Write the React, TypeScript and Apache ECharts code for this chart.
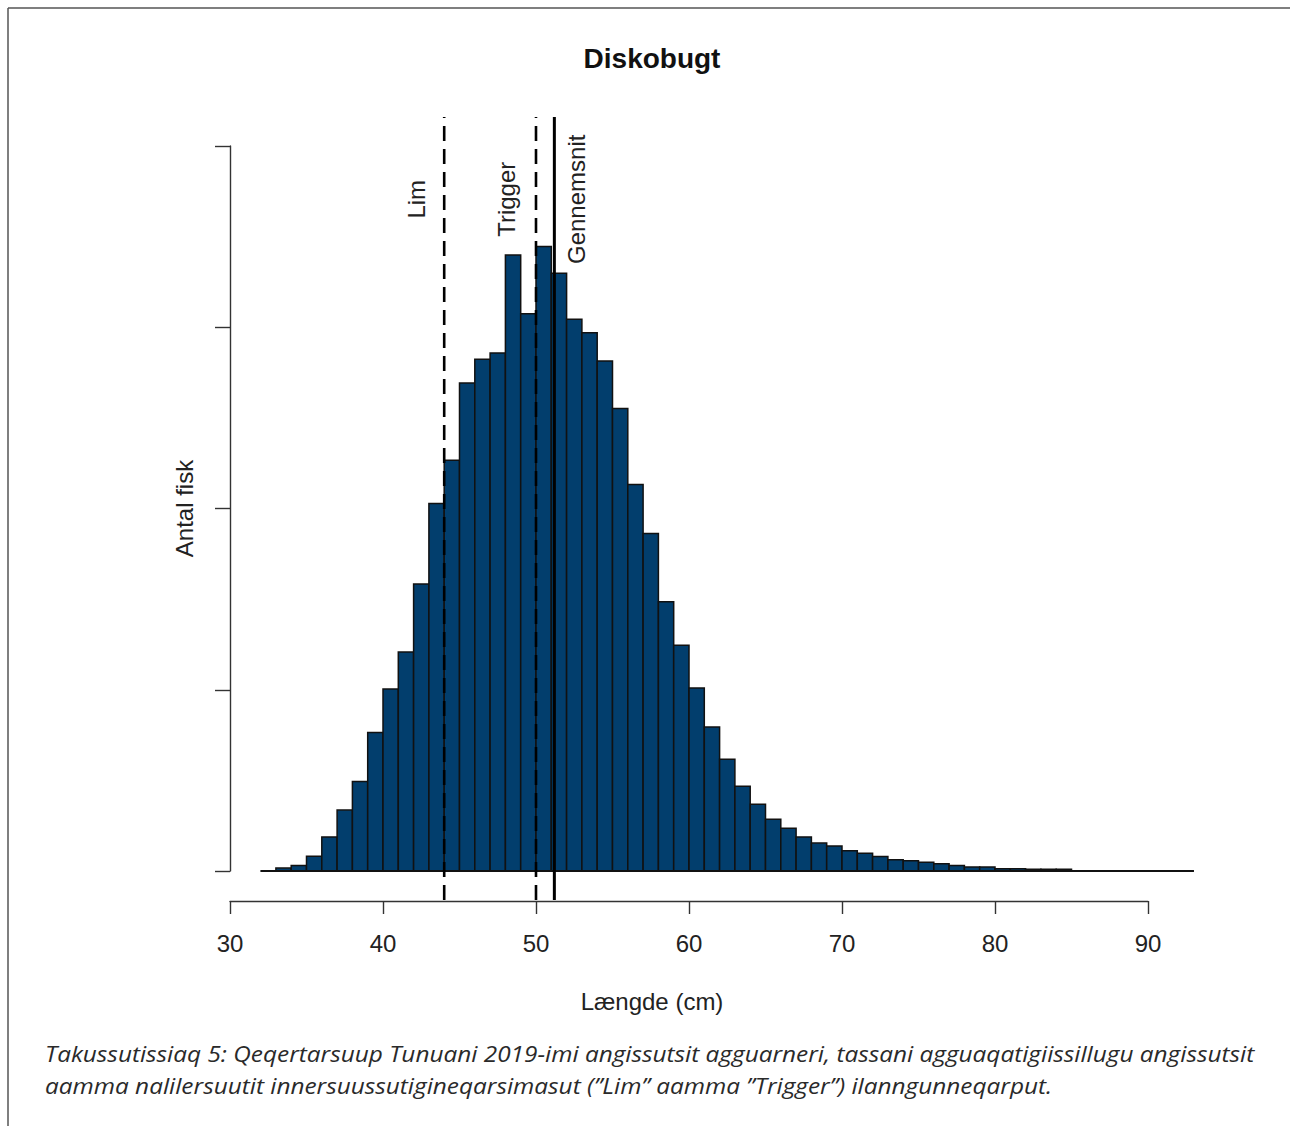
import React, { useEffect, useRef } from "react";
import * as echarts from "echarts";

// Histogram of fish lengths (cm), 1 cm bins starting at binStart
const binStart = 32;
const binWidth = 1;
const counts = [
  0, 8, 15, 41, 94, 168, 247, 382, 502, 604, 792, 1014, 1133, 1346, 1412, 1429,
  1699, 1537, 1723, 1649, 1522, 1485, 1407, 1276, 1066, 931, 743, 623, 505, 397,
  308, 234, 184, 143, 118, 94, 77, 69, 56, 49, 40, 31, 28, 24, 20, 15, 11, 11, 6,
  6, 5, 5, 5, 0, 0, 0, 0, 0, 0, 0, 0,
];

// Reference lines
const refNames = ["Lim", "Trigger", "Gennemsnit"];
const refValues = [44, 50, 51.2];

// Axis ticks
const xTicks = [30, 40, 50, 60, 70, 80, 90];
const yTicks = [0, 500, 1000, 1500, 2000];

const titleText = "Diskobugt";
const xAxisName = "Længde (cm)";
const yAxisName = "Antal fisk";
const captionLines = [
  "Takussutissiaq 5: Qeqertarsuup Tunuani 2019-imi angissutsit agguarneri, tassani agguaqatigiissillugu angissutsit",
  "aamma nalilersuutit innersuussutigineqarsimasut (\u201dLim\u201d aamma \u201dTrigger\u201d) ilanngunneqarput.",
];

const FONT = "'Liberation Sans', Arial, Helvetica, sans-serif";

export default function App() {
  const ref = useRef<HTMLDivElement>(null);

  useEffect(() => {
    if (!ref.current) return;
    const chart = echarts.init(ref.current, undefined, { renderer: "svg" });

    const binData = counts.map((c, i) => [
      binStart + i * binWidth,
      binStart + (i + 1) * binWidth,
      c,
    ]);
    const yPad = (yTicks[yTicks.length - 1] - yTicks[0]) * 0.04;
    const refData = refValues.map((v, i) => [v, i]);
    const labelDx = [-28, -30, 22];
    const labelY = 1853;

    const option: any = {
      animation: false,
      backgroundColor: "#ffffff",
      title: {
        text: titleText,
        left: 652,
        top: 44,
        padding: 0,
        textAlign: "center",
        textStyle: {
          fontFamily: FONT,
          fontSize: 28,
          fontWeight: "bold",
          color: "#111111",
        },
      },
      grid: {
        left: 230,
        right: 142,
        top: 146,
        bottom: 255,
        containLabel: false,
      },
      xAxis: {
        type: "value",
        min: xTicks[0],
        max: xTicks[xTicks.length - 1],
        interval: 10,
        offset: 30,
        name: xAxisName,
        nameLocation: "middle",
        nameGap: 88,
        nameTextStyle: {
          fontFamily: FONT,
          fontSize: 24,
          color: "#222222",
          padding: [0, 74, 0, 0],
        },
        splitLine: { show: false },
        axisLine: {
          show: true,
          onZero: false,
          lineStyle: { color: "#333333", width: 1.4 },
        },
        axisTick: {
          show: true,
          length: 13,
          inside: false,
          lineStyle: { color: "#333333", width: 1.4 },
        },
        axisLabel: {
          show: true,
          margin: 30,
          fontFamily: FONT,
          fontSize: 24,
          color: "#222222",
        },
      },
      yAxis: {
        type: "value",
        min: yTicks[0],
        max: yTicks[yTicks.length - 1],
        interval: 500,
        name: yAxisName,
        nameLocation: "middle",
        nameGap: 34,
        nameRotate: 90,
        nameTextStyle: {
          fontFamily: FONT,
          fontSize: 24,
          color: "#222222",
        },
        splitLine: { show: false },
        axisLine: {
          show: true,
          onZero: false,
          lineStyle: { color: "#333333", width: 1.4 },
        },
        axisTick: {
          show: true,
          length: 15,
          lineStyle: { color: "#333333", width: 1.4 },
        },
        axisLabel: { show: false },
      },
      series: [
        {
          type: "custom",
          name: "Histogram",
          clip: false,
          encode: { x: [0, 1], y: 2 },
          data: binData,
          renderItem: (params: any, api: any) => {
            const s = api.value(0);
            const e = api.value(1);
            const c = api.value(2);
            const p0 = api.coord([s, c]);
            const p1 = api.coord([e, 0]);
            return {
              type: "rect",
              shape: {
                x: p0[0],
                y: p0[1],
                width: p1[0] - p0[0],
                height: p1[1] - p0[1],
              },
              style: {
                fill: "#023e6d",
                stroke: "#111111",
                lineWidth: 1.5,
              },
            };
          },
          z: 2,
        },
        {
          type: "custom",
          name: "Baseline",
          clip: false,
          data: [[binStart, binStart + counts.length * binWidth]],
          encode: { x: [0, 1] },
          renderItem: (params: any, api: any) => {
            const a = api.coord([api.value(0), 0]);
            const b = api.coord([api.value(1), 0]);
            return {
              type: "line",
              shape: { x1: a[0], y1: a[1], x2: b[0], y2: b[1] },
              style: { stroke: "#111111", lineWidth: 2 },
            };
          },
          z: 3,
        },
        {
          type: "custom",
          name: "Reference",
          clip: false,
          data: refData,
          encode: { x: 0 },
          renderItem: (params: any, api: any) => {
            const v = api.value(0);
            const idx = api.value(1);
            const top = api.coord([v, yTicks[yTicks.length - 1] + yPad]);
            const bot = api.coord([v, yTicks[0] - yPad]);
            const lab = api.coord([v, labelY]);
            const dashed = idx < 2;
            return {
              type: "group",
              children: [
                {
                  type: "line",
                  shape: { x1: bot[0], y1: bot[1], x2: top[0], y2: top[1] },
                  style: {
                    stroke: "#000000",
                    lineWidth: dashed ? 2.6 : 3,
                    lineDash: dashed ? [15, 8] : null,
                  },
                },
                {
                  type: "text",
                  x: lab[0] + labelDx[idx],
                  y: lab[1],
                  rotation: Math.PI / 2,
                  style: {
                    text: refNames[idx],
                    fontFamily: FONT,
                    fontSize: 24,
                    fill: "#222222",
                    align: "center",
                    verticalAlign: "middle",
                    textAlign: "center",
                    textVerticalAlign: "middle",
                  },
                },
              ],
            };
          },
          z: 4,
        },
      ],
      graphic: [
        {
          type: "line",
          shape: { x1: 8, y1: 8, x2: 1290, y2: 8 },
          style: { stroke: "#555555", lineWidth: 1.5 },
          silent: true,
        },
        {
          type: "line",
          shape: { x1: 8, y1: 8, x2: 8, y2: 1126 },
          style: { stroke: "#555555", lineWidth: 1.5 },
          silent: true,
        },
        ...captionLines.map((t, i) => ({
          type: "text",
          x: 45,
          y: 1053 + i * 32,
          scaleX: 1.108,
          style: {
            text: t,
            fontFamily: "'Open Sans', Lato, sans-serif",
            fontStyle: "italic",
            fontSize: 22,
            fill: "#2a2a2a",
            align: "left",
            verticalAlign: "middle",
            textAlign: "left",
            textVerticalAlign: "middle",
          },
          silent: true,
        })),
      ],
    };

    chart.setOption(option);
    return () => {
      chart.dispose();
    };
  }, []);

  return (
    <div
      ref={ref}
      style={{
        position: "absolute",
        left: 0,
        top: 0,
        width: 1290,
        height: 1126,
        background: "#ffffff",
      }}
    />
  );
}
